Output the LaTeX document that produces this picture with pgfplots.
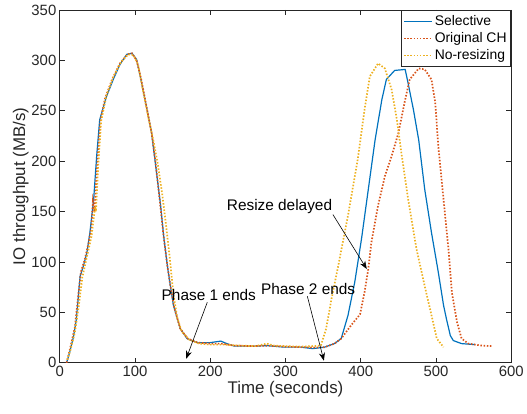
\documentclass[border=0pt]{standalone}
\usepackage{pgfplots}
\pgfplotsset{compat=1.18}
\usetikzlibrary{arrows.meta}
\usepackage{fontspec}
\setmainfont{Liberation Sans}
\definecolor{mblue}{rgb}{0,0.447,0.741}
\definecolor{mred}{rgb}{0.85,0.325,0.098}
\definecolor{myellow}{rgb}{0.929,0.694,0.125}
\definecolor{axgray}{rgb}{0.15,0.15,0.15}
\begin{document}
\begin{tikzpicture}
\begin{axis}[
  scale only axis, width=453bp, height=354bp,
  xmin=0, xmax=600, ymin=0, ymax=350,
  xtick={0,100,...,600}, ytick={0,50,...,350},
  tick align=inside, tick pos=both,
  major tick length=5bp,
  axis line style={axgray, line width=0.6bp},
  tick style={axgray, line width=0.6bp},
  every tick label/.append style={font=\fontsize{15}{17}\selectfont, text=axgray},
  /pgf/number format/assume math mode=true,
  xlabel={Time (seconds)}, ylabel={IO throughput (MB/s)},
  label style={font=\fontsize{17}{19}\selectfont, text=axgray},
  xlabel style={yshift=2bp},
  ylabel style={yshift=-4bp},
  clip=false,
  legend style={at={(rel axis cs:1,1)}, anchor=north east, font=\fontsize{14}{16}\selectfont,
    draw=axgray, inner xsep=2bp, inner ysep=3bp, row sep=1.5bp, xshift=-0.5bp, yshift=-0.5bp},
  legend cell align=left,
  legend image code/.code={\draw[#1] (0bp,0bp) -- (28bp,0bp);},
]
\addplot[color=mblue, draw=mblue, solid, line width=1.2bp] coordinates {
(9,0)(13,10)(18,25)(22,43)(27,86)(31,95)(36,109)(40,129)(45,162)(49,205)(53,241)(62,264)(71,281)(80,296)(89,306)(96,307)(102,301)(107,284)(116,251)(122,228)(127,198)(134,156)(138,126)(143,96)(147,76)(151,57)(160,34)(169,24)(183,20)(200,20)(214,21.5)(222,19)(232,16.5)(258,16.5)(276,17)(298,15.5)(321,15.5)(336,14)(352,15.5)(365,19)(374,24)(383,47)(392,80)(401,123)(410,172)(419,221)(428,261)(434,281)(445,290)(459,291)(463,277)(470,251)(477,221)(485,172)(494,129)(503,90)(510,57)(514,43)(519,27)(523,22)(534,19)(552,18)
};
\addlegendentry{Selective}
\addplot[color=mred, draw=mred, line width=1.7bp, dash pattern=on 1.5bp off 1.7bp] coordinates {
(9,0)(13,12)(20,35)(25,70)(28,90)(33,102)(38,118)(42,135)(44,160)(46,150)(50,200)(54,240)(60,262)(70,282)(80,297)(90,306)(96,307)(102,300)(108,282)(115,255)(122,228)(127,200)(133,160)(138,125)(143,96)(147,76)(152,55)(160,34)(170,24)(183,20)(200,19)(215,19)(232,17)(258,16.5)(276,17)(298,16)(321,15.5)(340,15)(352,15.5)(365,19)(374,24)(387,37)(399,48)(405,70)(410,93)(414,119)(423,156)(432,185)(441,205)(450,228)(459,261)(465,281)(477,292)(485,291)(494,281)(499,258)(503,215)(510,162)(517,109)(521,70)(528,40)(534,24)(543,19)(561,17)(575,16.5)
};
\addlegendentry{Original CH}
\addplot[color=myellow, draw=myellow, line width=1.7bp, dash pattern=on 1.5bp off 1.7bp] coordinates {
(10,3)(14,12)(20,30)(25,55)(30,85)(36,105)(42,125)(47,155)(48,150)(51,195)(55,240)(62,265)(72,285)(82,299)(91,306)(98,305)(104,296)(110,272)(118,242)(124,222)(130,198)(136,168)(141,138)(146,105)(151,68)(156,45)(162,31)(172,23)(185,19)(200,18)(220,18)(240,17)(260,16.5)(275,19)(285,17)(300,16.5)(320,16)(335,16.5)(347,17)(354,34)(361,63)(370,96)(383,146)(396,202)(405,251)(412,284)(423,297)(432,292)(441,271)(448,241)(454,208)(463,162)(474,113)(485,76)(494,47)(501,24)(510,15.5)
};
\addlegendentry{No-resizing}
\node[font=\fontsize{15.5}{17}\selectfont, text=black, inner sep=0pt] at (axis cs:198,67) {Phase 1 ends};
\draw[-{Stealth[length=8bp,width=6bp]}, line width=0.6bp] (axis cs:196,60) -- (axis cs:168,4);
\node[font=\fontsize{15.5}{17}\selectfont, text=black, inner sep=0pt] at (axis cs:330,73) {Phase 2 ends};
\draw[-{Stealth[length=8bp,width=6bp]}, line width=0.6bp] (axis cs:329,66) -- (axis cs:351,2);
\node[font=\fontsize{15.5}{17}\selectfont, text=black, inner sep=0pt] at (axis cs:292,155.5) {Resize delayed};
\draw[-{Stealth[length=8bp,width=6bp]}, line width=0.6bp] (axis cs:363,147) -- (axis cs:408,93);
\end{axis}
\path (current axis.south west) ++(-60bp,-51bp) coordinate (bbA);
\path (current axis.north east) ++(14bp,10bp) coordinate (bbB);
\path (bbA) (bbB);
\end{tikzpicture}
\end{document}
